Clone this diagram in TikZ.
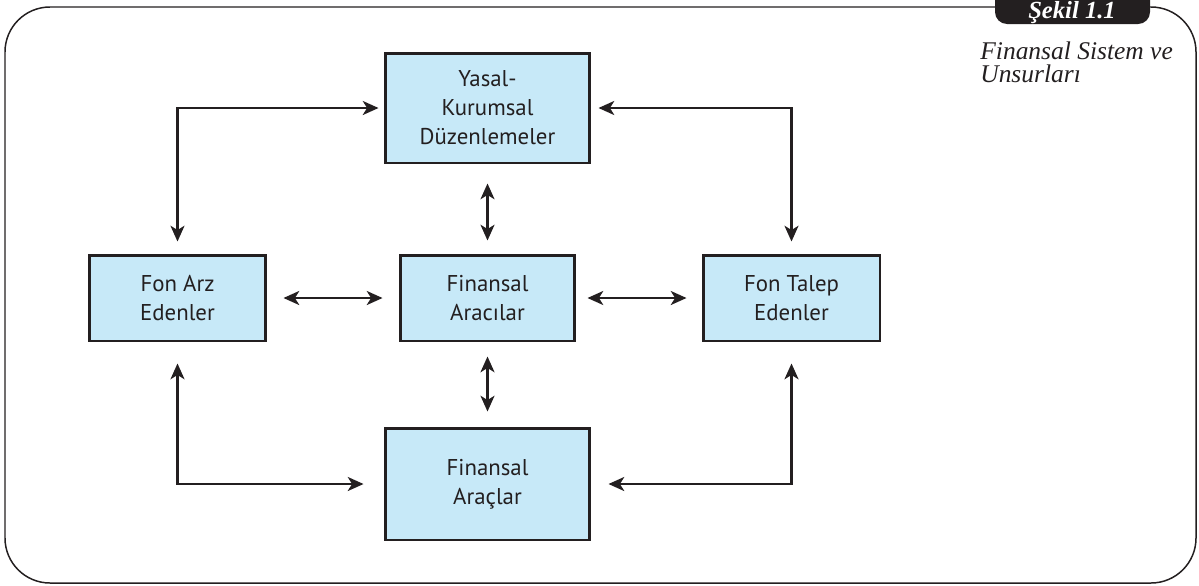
\documentclass[tikz,border=0pt]{standalone}
\usepackage{fontspec}
\setsansfont{PT Sans}
\newfontfamily\capfont{Liberation Serif}
\usetikzlibrary{arrows.meta}
\definecolor{boxblue}{RGB}{199,233,248}
\definecolor{ink}{RGB}{35,31,32}
\tikzset{
  blk/.style={draw=ink, line width=1.7pt, fill=boxblue, align=center, inner sep=0pt,
    font=\sffamily\fontsize{13}{16.5}\selectfont, text=ink},
  dbl/.style={ink, line width=1.3pt, {Stealth[length=9pt,width=8pt,inset=2.5pt]}-{Stealth[length=9pt,width=8pt,inset=2.5pt]}},
}
\begin{document}
\begin{tikzpicture}[x=0.02cm,y=-0.02cm]
\useasboundingbox (0,0) rectangle (1199,585);
% frame
\draw[ink, line width=0.85pt, rounded corners=0.9cm] (5,7) rectangle (1196,583);
\begin{scope}
\clip (0,0) rectangle (1199,585);
\fill[ink, rounded corners=0.24cm] (995,-14) rectangle (1150,24);
\end{scope}
\node[anchor=base, inner sep=0pt, text=white, font=\capfont\fontsize{14}{14}\selectfont\bfseries\itshape] (tab) at (1072,18) {Şekil 1.1};
\node[anchor=north west, inner sep=0pt, align=left, text=ink,
  font=\capfont\fontsize{14.5}{13.4}\selectfont\itshape] (cap) at (980,41) {Finansal Sistem ve\\Unsurları};
% boxes
\node[blk, minimum width=4.1cm, minimum height=2.2cm] (T) at (487.5,108) {Yasal-\\Kurumsal\\Düzenlemeler};
\node[blk, minimum width=3.54cm, minimum height=1.72cm] (L) at (177.5,298) {Fon Arz\\Edenler};
\node[blk, minimum width=3.5cm, minimum height=1.72cm] (M) at (487.5,298) {Finansal\\Aracılar};
\node[blk, minimum width=3.54cm, minimum height=1.72cm] (R) at (791.5,298) {Fon Talep\\Edenler};
\node[blk, minimum width=4.1cm, minimum height=2.24cm] (B) at (487.5,484) {Finansal\\Araçlar};
% connectors
\draw[dbl, shorten <=0.24cm, shorten >=0.1cm] (L.north) |- (T.west);
\draw[dbl, shorten <=0.14cm, shorten >=0.24cm] (T.east) -| (R.north);
\draw[dbl, shorten <=0.42cm, shorten >=0.4cm] (L.south) |- (B.west);
\draw[dbl, shorten <=0.42cm, shorten >=0.34cm] (R.south) |- (B.east);
\draw[dbl, shorten <=0.38cm, shorten >=0.26cm] (T.south) -- (M.north);
\draw[dbl, shorten <=0.28cm, shorten >=0.3cm] (M.south) -- (B.north);
\draw[dbl, shorten <=0.32cm, shorten >=0.32cm] (L.east) -- (M.west);
\draw[dbl, shorten <=0.22cm, shorten >=0.3cm] (M.east) -- (R.west);
\end{tikzpicture}
\end{document}
